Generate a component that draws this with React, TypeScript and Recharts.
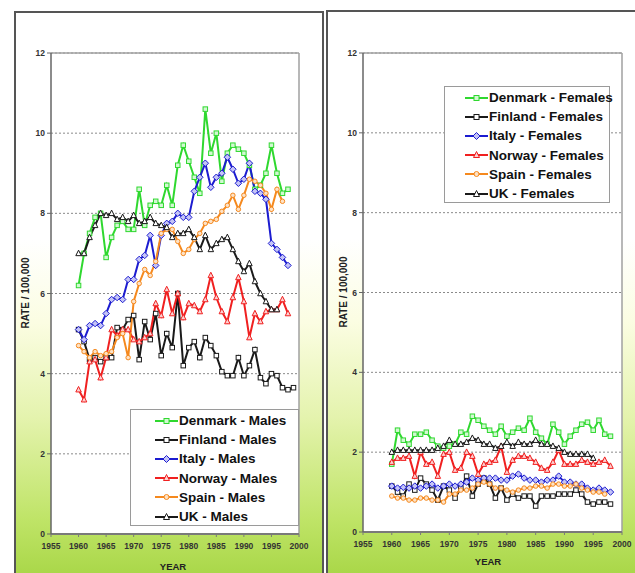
import React from 'react';
import { LineChart, Line, XAxis, YAxis, CartesianGrid, Legend, ReferenceLine } from 'recharts';

const YEARS = [
  1960, 1961, 1962, 1963, 1964, 1965, 1966, 1967, 1968, 1969,
  1970, 1971, 1972, 1973, 1974, 1975, 1976, 1977, 1978, 1979,
  1980, 1981, 1982, 1983, 1984, 1985, 1986, 1987, 1988, 1989,
  1990, 1991, 1992, 1993, 1994, 1995, 1996, 1997, 1998, 1999,
];
const X_TICKS = [1955, 1960, 1965, 1970, 1975, 1980, 1985, 1990, 1995, 2000];
const Y_TICKS = [0, 2, 4, 6, 8, 10, 12];
const COUNTRIES = ['Denmark', 'Finland', 'Italy', 'Norway', 'Spain', 'UK'];

// males, rate per 100,000 (from 1960)
const DENMARK_M = [6.2, 7.0, 7.5, 7.9, 8.0, 6.9, 7.4, 7.7, 7.8, 7.6, 7.6, 8.6, 7.7, 8.2, 8.3, 8.2, 8.7, 8.2, 9.2, 9.7, 9.3, 8.9, 8.5, 10.6, 9.5, 10.0, 8.8, 9.5, 9.7, 9.6, 9.5, 9.2, 8.6, 8.7, 9.0, 9.7, 9.0, 8.5, 8.6];
const FINLAND_M = [5.1, 4.8, 4.35, 4.4, 4.3, 4.4, 4.4, 5.15, 5.1, 5.35, 5.45, 4.35, 5.3, 4.85, 5.5, 4.45, 5.0, 4.65, 6.0, 4.2, 4.65, 4.8, 4.4, 4.9, 4.7, 4.45, 4.05, 3.95, 3.95, 4.4, 3.95, 4.2, 4.6, 3.9, 3.75, 4.0, 3.95, 3.65, 3.6, 3.65];
const ITALY_M = [5.1, 4.85, 5.2, 5.25, 5.2, 5.5, 5.85, 5.9, 5.85, 6.35, 6.35, 6.85, 6.95, 7.45, 6.7, 7.45, 7.75, 7.8, 8.0, 7.9, 7.9, 8.55, 8.9, 9.25, 8.65, 8.9, 9.0, 9.4, 9.1, 8.75, 8.85, 9.25, 8.55, 8.5, 8.35, 7.25, 7.1, 6.9, 6.7];
const NORWAY_M = [3.6, 3.35, 4.3, 4.35, 3.9, 4.4, 5.1, 4.95, 5.1, 5.1, 4.85, 4.8, 4.9, 5.0, 5.75, 5.45, 6.1, 5.5, 6.0, 5.4, 5.75, 5.7, 5.55, 5.85, 6.45, 5.9, 5.55, 5.3, 5.9, 6.4, 5.8, 4.9, 5.5, 5.3, 5.55, 5.6, 5.6, 5.85, 5.5];
const SPAIN_M = [4.7, 4.55, 4.4, 4.55, 4.45, 4.5, 4.55, 4.9, 5.0, 4.4, 5.8, 6.25, 6.6, 6.45, 6.8, 7.5, 7.6, 7.6, 7.3, 7.0, 7.1, 7.35, 7.5, 7.75, 7.8, 7.85, 8.05, 8.2, 8.45, 8.1, 8.45, 8.85, 8.8, 8.7, 8.5, 8.1, 8.6, 8.3];
const UK_M = [7.0, 7.0, 7.4, 7.7, 8.0, 7.95, 8.0, 7.85, 7.9, 7.8, 7.95, 7.75, 7.8, 7.9, 7.75, 7.7, 7.65, 7.4, 7.5, 7.5, 7.6, 7.4, 7.1, 7.45, 7.1, 7.25, 7.35, 7.4, 7.1, 6.8, 6.55, 6.75, 6.3, 6.0, 5.8, 5.6, 5.6];

// females
const DENMARK_F = [1.7, 2.55, 2.3, 2.2, 2.45, 2.45, 2.5, 2.3, 2.15, 2.1, 2.15, 2.2, 2.5, 2.45, 2.9, 2.8, 2.65, 2.55, 2.45, 2.65, 2.4, 2.5, 2.6, 2.55, 2.85, 2.5, 2.35, 2.2, 2.7, 2.5, 2.2, 2.4, 2.55, 2.7, 2.75, 2.55, 2.8, 2.45, 2.4];
const FINLAND_F = [1.15, 1.0, 0.9, 1.2, 1.05, 1.35, 1.2, 1.05, 0.8, 1.15, 1.05, 0.85, 1.1, 1.4, 0.9, 1.2, 1.35, 1.2, 0.85, 1.1, 0.8, 0.95, 0.85, 0.9, 0.9, 0.65, 0.9, 0.9, 0.9, 0.95, 0.95, 0.95, 1.05, 0.95, 0.75, 0.7, 0.75, 0.75, 0.7];
const ITALY_F = [1.15, 1.1, 1.12, 1.1, 1.15, 1.1, 1.15, 1.2, 1.1, 1.15, 1.2, 1.15, 1.2, 1.25, 1.35, 1.3, 1.35, 1.35, 1.35, 1.3, 1.3, 1.4, 1.45, 1.35, 1.3, 1.3, 1.25, 1.3, 1.3, 1.4, 1.25, 1.25, 1.2, 1.2, 1.1, 1.05, 1.1, 1.05, 1.0];
const NORWAY_F = [1.75, 1.85, 1.85, 1.9, 1.4, 2.0, 1.7, 1.75, 1.4, 1.95, 2.0, 1.55, 1.6, 2.0, 1.9, 1.45, 1.7, 1.75, 1.8, 2.15, 1.5, 1.8, 1.9, 1.9, 1.85, 1.75, 1.6, 1.55, 1.75, 2.05, 1.7, 1.7, 1.7, 1.8, 1.75, 1.7, 1.75, 1.8, 1.65];
const SPAIN_F = [0.9, 0.85, 0.85, 0.8, 0.8, 0.85, 0.85, 0.8, 0.8, 0.75, 0.95, 0.95, 1.05, 1.05, 1.1, 1.2, 1.25, 1.2, 1.1, 1.1, 1.05, 1.0, 1.05, 1.1, 1.1, 1.15, 1.15, 1.1, 1.2, 1.2, 1.15, 1.15, 1.2, 1.1, 1.05, 1.0, 1.0, 0.95];
const UK_F = [2.0, 2.05, 2.05, 2.05, 2.05, 2.05, 2.05, 2.05, 2.1, 2.15, 2.3, 2.2, 2.2, 2.25, 2.35, 2.3, 2.2, 2.2, 2.1, 2.15, 2.25, 2.15, 2.25, 2.2, 2.2, 2.3, 2.2, 2.2, 2.15, 2.1, 2.0, 1.95, 1.95, 1.95, 1.95, 1.85];

const MALES: Record<string, number[]> = {
  Denmark: DENMARK_M, Finland: FINLAND_M, Italy: ITALY_M, Norway: NORWAY_M, Spain: SPAIN_M, UK: UK_M,
};
const FEMALES: Record<string, number[]> = {
  Denmark: DENMARK_F, Finland: FINLAND_F, Italy: ITALY_F, Norway: NORWAY_F, Spain: SPAIN_F, UK: UK_F,
};

const LOOK: Record<string, { color: string; fill: string; shape: string }> = {
  Denmark: { color: '#2fd82f', fill: '#d2f8d2', shape: 'square' },
  Finland: { color: '#1a1a1a', fill: '#ffffff', shape: 'square' },
  Italy: { color: '#1c1cd0', fill: '#c4c4f6', shape: 'diamond' },
  Norway: { color: '#f02020', fill: '#fcd0d0', shape: 'triangle' },
  Spain: { color: '#f5891e', fill: '#fde2c6', shape: 'circle' },
  UK: { color: '#1a1a1a', fill: '#ffffff', shape: 'triangle' },
};

const NARROW = '"Liberation Sans Narrow", "Arial Narrow", "Liberation Sans", Arial, sans-serif';
const SANS = '"Liberation Sans", Arial, sans-serif';

function toRows(series: Record<string, number[]>) {
  return YEARS.map((year, i) => {
    const row: any = { year };
    COUNTRIES.forEach((c) => {
      const v = series[c][i];
      row[c] = v === undefined ? null : v;
    });
    return row;
  });
}

function Marker({ cx, cy, country, size = 5 }: any) {
  if (cx == null || cy == null || isNaN(cy)) return null;
  const { color, fill, shape } = LOOK[country];
  const h = size / 2;
  const common = { fill, stroke: color, strokeWidth: 1 };
  if (shape === 'square') return <rect x={cx - h} y={cy - h} width={size} height={size} {...common} />;
  if (shape === 'diamond')
    return <polygon points={`${cx},${cy - h - 1} ${cx + h + 1},${cy} ${cx},${cy + h + 1} ${cx - h - 1},${cy}`} {...common} />;
  if (shape === 'triangle')
    return <polygon points={`${cx},${cy - h - 1} ${cx + h + 0.5},${cy + h} ${cx - h - 0.5},${cy + h}`} {...common} />;
  return <circle cx={cx} cy={cy} r={h} {...common} />;
}

function LegendBox({ suffix, width, height, padLeft }: any) {
  return (
    <div style={{ width, height, boxSizing: 'border-box', border: '1px solid #9a9a9a', background: '#fff', paddingTop: 1 }}>
      {COUNTRIES.map((c) => (
        <div key={c} style={{ display: 'flex', alignItems: 'center', height: 19.2, paddingLeft: padLeft }}>
          <svg width={23} height={12} style={{ flex: 'none' }}>
            <line x1={0} y1={6} x2={23} y2={6} stroke={LOOK[c].color} strokeWidth={2} />
            <Marker cx={11.5} cy={6} country={c} />
          </svg>
          <span style={{ fontFamily: NARROW, fontWeight: 700, fontSize: 13.5, color: '#111', marginLeft: 1, whiteSpace: 'nowrap' }}>
            {c} - {suffix}
          </span>
        </div>
      ))}
    </div>
  );
}

function Panel({ series, suffix, left, width, margin, legend, rateAt, yearAt }: any) {
  const rows = toRows(series);
  const tickStyle = { fontFamily: NARROW, fontWeight: 700, fontSize: 8.5, fill: '#333' };
  return (
    <div style={{ position: 'absolute', left, top: 0, width, height: 573 }}>
      <LineChart width={width} height={573} data={rows} margin={margin}>
        <CartesianGrid vertical={false} stroke="#8a8a8a" strokeDasharray="2 2" fill="#ffffff" fillOpacity={1} />
        <XAxis
          type="number"
          dataKey="year"
          domain={[1955, 2000]}
          ticks={X_TICKS}
          interval={0}
          height={20}
          tickSize={3}
          tickMargin={6}
          axisLine={{ stroke: '#7a7a7a', strokeWidth: 2 }}
          tickLine={{ stroke: '#7a7a7a' }}
          tick={tickStyle}
        />
        <YAxis
          type="number"
          domain={[0, 12]}
          ticks={Y_TICKS}
          interval={0}
          width={20}
          tickSize={4}
          tickMargin={2}
          axisLine={{ stroke: '#666', strokeWidth: 1.5 }}
          tickLine={{ stroke: '#666' }}
          tick={tickStyle}
        />
        <ReferenceLine y={12} stroke="#a0a0a0" strokeWidth={1.5} />
        <ReferenceLine x={2000} stroke="#a0a0a0" strokeWidth={1.5} />
        {COUNTRIES.map((c) => (
          <Line
            key={c}
            type="linear"
            dataKey={c}
            name={`${c} - ${suffix}`}
            stroke={LOOK[c].color}
            strokeWidth={2}
            connectNulls={false}
            activeDot={false}
            isAnimationActive={false}
            dot={(p: any) => <Marker key={p.key ?? `${c}-${p.index}`} cx={p.cx} cy={p.cy} country={c} size={4.5} />}
          />
        ))}
        <Legend
          layout="vertical"
          align="center"
          verticalAlign="middle"
          wrapperStyle={{ left: legend.left, top: legend.top, width: legend.width, height: legend.height }}
          content={() => <LegendBox suffix={suffix} width={legend.width} height={legend.height} padLeft={legend.padLeft} />}
        />
      </LineChart>
      <div
        style={{
          position: 'absolute', left: rateAt[0], top: rateAt[1], transform: 'translate(-50%, -50%) rotate(-90deg)',
          fontFamily: SANS, fontWeight: 700, fontSize: 10, color: '#222', whiteSpace: 'nowrap',
        }}
      >
        RATE / 100,000
      </div>
      <div
        style={{
          position: 'absolute', left: yearAt[0], top: yearAt[1], transform: 'translate(-50%, -50%)',
          fontFamily: NARROW, fontWeight: 700, fontSize: 9.5, color: '#222', whiteSpace: 'nowrap',
        }}
      >
        YEAR
      </div>
    </div>
  );
}

const BG = 'linear-gradient(180deg, #ffffff 0%, #ffffff 38%, #fbfde2 52%, #e4f3ad 68%, #bfe467 85%, #9ccf36 100%)';

export default function App() {
  return (
    <div style={{ position: 'fixed', left: 0, top: 0, width: 635, height: 573, overflow: 'hidden', background: '#fff' }}>
      <div style={{ position: 'absolute', left: 14, top: 11, width: 310, height: 600, boxSizing: 'border-box', border: '2px solid #555', background: BG }} />
      <div style={{ position: 'absolute', left: 326, top: 10, width: 320, height: 600, boxSizing: 'border-box', border: '2px solid #555', background: BG }} />
      <Panel
        series={MALES}
        suffix="Males"
        left={0}
        width={320}
        margin={{ top: 53, right: 21, bottom: 19, left: 31 }}
        legend={{ left: 130, top: 409, width: 169, height: 117, padLeft: 24 }}
        rateAt={[25, 293]}
        yearAt={[173, 566]}
      />
      <Panel
        series={FEMALES}
        suffix="Females"
        left={320}
        width={315}
        margin={{ top: 53, right: 13, bottom: 21, left: 23 }}
        legend={{ left: 124, top: 86, width: 166, height: 117, padLeft: 20 }}
        rateAt={[23, 292]}
        yearAt={[168, 561]}
      />
    </div>
  );
}
